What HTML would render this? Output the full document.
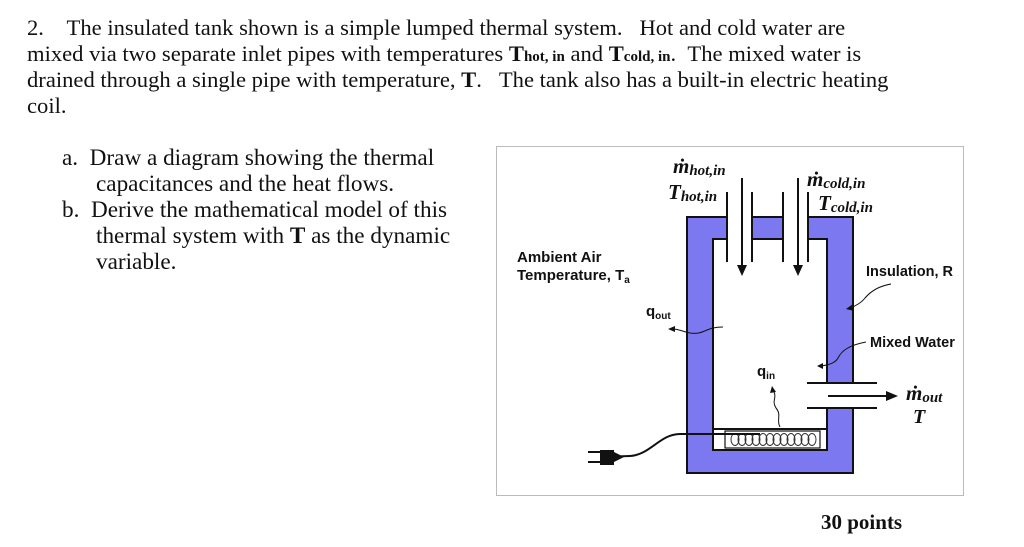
<!DOCTYPE html>
<html><head><meta charset="utf-8"><style>
body{margin:0;width:1024px;height:547px;background:#fff;position:relative;overflow:hidden;font-family:"Liberation Serif",serif;color:#111}
.t{position:absolute;font-size:22.6px;white-space:nowrap;line-height:26px}
.s{font-size:15px;font-weight:bold}
</style></head><body>
<div class="t" style="left:27px;top:15px">2.&nbsp;&nbsp;&nbsp;&nbsp;The insulated tank shown is a simple lumped thermal system.&nbsp;&nbsp;&nbsp;Hot and cold water are</div>
<div class="t" style="left:27px;top:41px">mixed via two separate inlet pipes with temperatures <b>T</b><span class="s">hot, in</span> and <b>T</b><span class="s">cold, in</span>.&nbsp;&nbsp;The mixed water is</div>
<div class="t" style="left:27px;top:67px">drained through a single pipe with temperature, <b>T</b>.&nbsp;&nbsp;&nbsp;The tank also has a built-in electric heating</div>
<div class="t" style="left:27px;top:93px">coil.</div>
<div class="t" style="left:62px;top:145px;font-size:23.2px">a.&nbsp;&nbsp;Draw a diagram showing the thermal</div>
<div class="t" style="left:96px;top:171px;font-size:23.2px">capacitances and the heat flows.</div>
<div class="t" style="left:62px;top:197px;font-size:23.2px">b.&nbsp;&nbsp;Derive the mathematical model of this</div>
<div class="t" style="left:96px;top:223px;font-size:23.2px">thermal system with <b>T</b> as the dynamic</div>
<div class="t" style="left:96px;top:249px;font-size:23.2px">variable.</div>
<div class="t" style="left:821px;top:509px;font-weight:bold;font-size:21px">30 points</div>
<svg width="1024" height="547" style="position:absolute;left:0;top:0" font-family="Liberation Sans, sans-serif">
<rect x="496.5" y="146.5" width="467" height="349" fill="none" stroke="#bbb"/>
<rect x="687" y="217" width="166" height="256" fill="#7b78f0" stroke="#111" stroke-width="2"/>
<rect x="713" y="239" width="114" height="211" fill="#fff" stroke="#111" stroke-width="2"/>
<rect x="728" y="215" width="23" height="26" fill="#fff"/>
<rect x="784" y="215" width="23" height="26" fill="#fff"/>
<rect x="826" y="384" width="28" height="23" fill="#fff"/>
<g stroke="#111" stroke-width="2">
<line x1="727" y1="192" x2="727" y2="262"/><line x1="752" y1="192" x2="752" y2="262"/>
<line x1="783" y1="192" x2="783" y2="262"/><line x1="808" y1="192" x2="808" y2="262"/>
<line x1="742" y1="178" x2="742" y2="266"/><line x1="798" y1="178" x2="798" y2="266"/>
<line x1="807" y1="383" x2="877" y2="383"/><line x1="807" y1="408" x2="877" y2="408"/>
<line x1="828" y1="396" x2="888" y2="396"/>
</g>
<polygon points="737,265 747,265 742,276" fill="#111"/>
<polygon points="793,265 803,265 798,276" fill="#111"/>
<polygon points="886,391 886,401 898,396" fill="#111"/>
<rect x="714" y="428" width="112" height="2" fill="#111"/>
<rect x="725" y="431" width="95" height="17" fill="#fff" stroke="#111" stroke-width="1.2"/>
<g fill="none" stroke="#333" stroke-width="1">
<ellipse cx="735" cy="439.5" rx="4" ry="6"/><ellipse cx="742" cy="439.5" rx="4" ry="6"/><ellipse cx="749" cy="439.5" rx="4" ry="6"/><ellipse cx="756" cy="439.5" rx="4" ry="6"/><ellipse cx="763" cy="439.5" rx="4" ry="6"/><ellipse cx="770" cy="439.5" rx="4" ry="6"/><ellipse cx="777" cy="439.5" rx="4" ry="6"/><ellipse cx="784" cy="439.5" rx="4" ry="6"/><ellipse cx="791" cy="439.5" rx="4" ry="6"/><ellipse cx="798" cy="439.5" rx="4" ry="6"/><ellipse cx="805" cy="439.5" rx="4" ry="6"/><ellipse cx="812" cy="439.5" rx="4" ry="6"/>
</g>
<path d="M680,434 H760 M680,434 C660,434 650,455 630,456 L600,457" stroke="#111" stroke-width="2" fill="none"/>
<rect x="600" y="450" width="14" height="15" fill="#111"/>
<polygon points="614,452 624,457 614,462" fill="#111"/>
<line x1="588" y1="452" x2="600" y2="452" stroke="#111" stroke-width="2"/>
<line x1="588" y1="462" x2="600" y2="462" stroke="#111" stroke-width="2"/>
<g stroke="#111" stroke-width="1" fill="none">
<path d="M723,327 C705,327 705,335 690,333 C680,331 680,329 672,329"/>
<path d="M780,427 C776,420 782,415 776,408 C771,400 778,398 773,390"/>
<path d="M891,284 C880,286 872,290 865,298 C862,302 856,306 850,308"/>
<path d="M866,342 C850,345 842,350 838,358 C836,362 830,365 820,366"/>
</g>
<polygon points="668,329 675,326 675,332" fill="#111"/>
<polygon points="772,386 770,393 776,392" fill="#111"/>
<polygon points="846,309 853,304 854,311" fill="#111"/>
<polygon points="817,366 823,363 823,369" fill="#111"/>
<g font-weight="bold" font-size="15" fill="#111">
<text x="517" y="262">Ambient Air</text>
<text x="517" y="280">Temperature, T<tspan font-size="10" dy="3">a</tspan></text>
<text x="866" y="276" font-size="14.5">Insulation, R</text>
<text x="870" y="347" font-size="14.5">Mixed Water</text>
<text x="646" y="316">q<tspan font-size="10" dy="3">out</tspan></text>
<text x="757" y="376">q<tspan font-size="10" dy="3">in</tspan></text>
</g>
<g font-family="Liberation Serif, serif" font-weight="bold" font-style="italic" fill="#111">
<text x="673" y="173" font-size="21">ṁ<tspan font-size="15" dy="2">hot,in</tspan></text>
<text x="668" y="199" font-size="21">T<tspan font-size="15" dy="2">hot,in</tspan></text>
<text x="807" y="186" font-size="21">ṁ<tspan font-size="15" dy="2">cold,in</tspan></text>
<text x="818" y="210" font-size="21">T<tspan font-size="15" dy="2">cold,in</tspan></text>
<text x="906" y="400" font-size="21">ṁ<tspan font-size="15" dy="2">out</tspan></text>
<text x="913" y="423" font-size="20">T</text>
</g>
</svg>
</body></html>
